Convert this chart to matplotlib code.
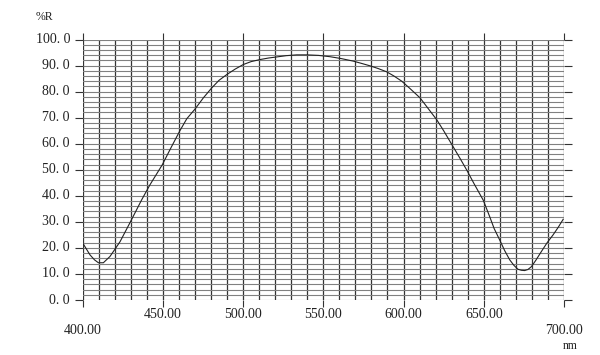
import matplotlib
matplotlib.use("Agg")
import matplotlib.pyplot as plt
import matplotlib.transforms as mtransforms
import numpy as np

# Data (wavelength nm, %R)
wavelength = [400.0, 404.7, 407.5, 409.9, 413.0, 417.1, 420.0, 423.4, 429.6, 436.9,
              442.0, 449.7, 455.0, 460.7, 465.0, 470.1, 475.3, 480.5, 485.0, 489.8,
              495.0, 500.2, 505.0, 510.6, 516.0, 521.0, 527.0, 533.5, 540.0, 547.0,
              554.2, 561.0, 568.7, 574.0, 579.1, 584.0, 589.5, 594.0, 598.9, 604.0,
              610.3, 615.0, 620.7, 625.0, 630.0, 635.0, 639.3, 644.0, 649.7, 653.7,
              656.5, 659.9, 663.0, 666.2, 668.8, 671.3, 673.5, 675.5, 677.5, 679.7,
              682.5, 685.9, 689.5, 693.2, 696.5, 699.5]
reflectance = [22.0, 17.3, 15.4, 14.3, 14.3, 16.7, 19.3, 22.4, 29.7, 38.5,
               44.2, 51.9, 58.3, 65.0, 69.6, 73.3, 77.6, 81.4, 84.3, 86.5,
               88.6, 90.4, 91.5, 92.3, 92.9, 93.3, 93.8, 94.1, 94.1, 93.9,
               93.4, 92.7, 91.7, 90.8, 89.9, 88.9, 87.6, 86.0, 84.0, 81.2,
               77.6, 73.8, 69.2, 65.0, 59.8, 54.6, 50.0, 44.6, 38.3, 32.0,
               27.4, 23.1, 19.0, 15.4, 13.3, 11.8, 11.4, 11.3, 11.7, 12.8,
               15.3, 18.6, 22.0, 25.0, 28.0, 31.0]

x_ticks = [400, 450, 500, 550, 600, 650, 700]
x_tick_labels = ["400.00", "450.00", "500.00", "550.00", "600.00", "650.00", "700.00"]
y_ticks = [0, 10, 20, 30, 40, 50, 60, 70, 80, 90, 100]
y_tick_labels = ["0. 0", "10. 0", "20. 0", "30. 0", "40. 0", "50. 0", "60. 0",
                 "70. 0", "80. 0", "90. 0", "100. 0"]

plt.rcParams['font.family'] = ['Liberation Serif', 'DejaVu Serif']

fig = plt.figure(figsize=(6.0, 3.55), dpi=100)
ax = fig.add_axes([82.5 / 600, 1 - 300 / 355, (564 - 82.5) / 600, (300 - 39.5) / 355])

ax.set_xlim(400, 700)
ax.set_ylim(0, 100)

# grid
for xv in np.arange(400, 701, 10):
    ax.axvline(xv, color="#333333", lw=0.9, zorder=1)
for yv in np.arange(0, 101, 2):
    ax.axhline(yv, color="#808080", lw=0.8, zorder=1)

ax.plot(wavelength, reflectance, color="#222222", lw=0.8, zorder=3)

for s in ax.spines.values():
    s.set_visible(False)

ax.set_xticks(x_ticks)
ax.set_xticklabels([])
ax.tick_params(axis="x", which="major", direction="out", length=5, width=0.8,
               color="#333333", top=True, bottom=True)
ax.set_yticks(y_ticks)
ax.set_yticklabels([])
ax.tick_params(axis="y", which="major", direction="out", length=6, width=0.8,
               color="#333333", left=True, right=True)

fs = 10
# y labels
ytrans = mtransforms.blended_transform_factory(ax.transAxes, ax.transData)
for yv, lab in zip(y_ticks, y_tick_labels):
    ax.text(-12.5 / 481.5, yv, lab, transform=ytrans, ha="right", va="center",
            fontsize=fs, color="#222222")

# x labels (staggered)
xtrans = mtransforms.blended_transform_factory(ax.transData, fig.transFigure)
for i, (xv, lab) in enumerate(zip(x_ticks, x_tick_labels)):
    if i == 0 or i == len(x_ticks) - 1:
        ypix = 330
    else:
        ypix = 315
    ax.text(xv, 1 - ypix / 355, lab, transform=xtrans, ha="center", va="center",
            fontsize=fs, color="#222222")

fig.text(570 / 600, 1 - 346 / 355, "nm", ha="center", va="center", fontsize=fs - 1.5,
         color="#222222")
fig.text(36 / 600, 1 - 17 / 355, "%R", ha="left", va="center", fontsize=fs - 1.5,
         color="#222222")

fig.savefig("out.png", dpi=100)
